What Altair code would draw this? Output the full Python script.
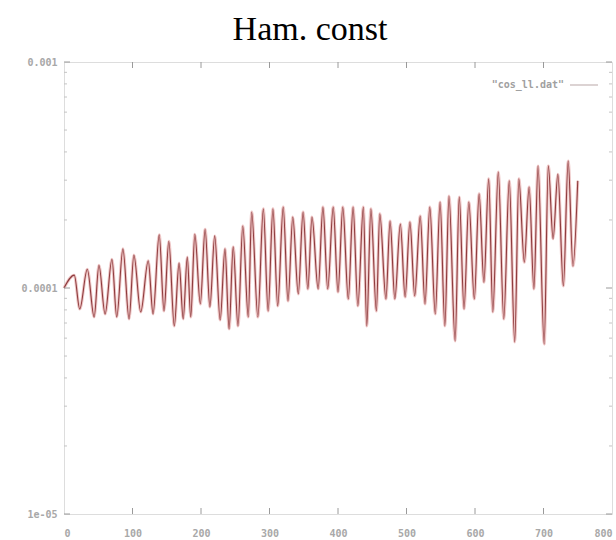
import altair as alt
import pandas as pd

# ---- data ----
steps = [0, 15, 23, 34, 44, 51, 60, 70, 77, 86, 95, 102, 112, 123, 130, 139, 146, 153, 161, 168,
         174, 180, 185, 191, 199, 206, 213, 220, 228, 235, 241, 247, 254, 261, 269, 274, 283, 291,
         298, 305, 312, 320, 327, 334, 342, 349, 356, 362, 371, 378, 385, 393, 400, 407, 415, 422,
         429, 437, 442, 448, 456, 461, 470, 476, 483, 491, 498, 505, 512, 520, 527, 534, 542, 549,
         556, 562, 571, 577, 584, 591, 599, 606, 613, 620, 626, 634, 642, 650, 658, 664, 672, 679,
         686, 692, 701, 707, 714, 721, 729, 736, 743, 750]
ham = [1.00e-4, 1.14e-4, 0.807e-4, 1.21e-4, 0.744e-4, 1.26e-4, 0.767e-4, 1.34e-4, 0.744e-4, 1.49e-4,
       0.729e-4, 1.40e-4, 0.783e-4, 1.32e-4, 0.767e-4, 1.72e-4, 0.791e-4, 1.61e-4, 0.679e-4, 1.29e-4,
       0.729e-4, 1.37e-4, 0.744e-4, 1.73e-4, 0.850e-4, 1.82e-4, 0.824e-4, 1.70e-4, 0.722e-4, 1.49e-4,
       0.659e-4, 1.52e-4, 0.679e-4, 1.88e-4, 0.744e-4, 2.17e-4, 0.744e-4, 2.24e-4, 0.791e-4, 2.24e-4,
       0.833e-4, 2.28e-4, 0.876e-4, 2.06e-4, 0.941e-4, 2.17e-4, 0.990e-4, 2.06e-4, 0.990e-4, 2.28e-4,
       0.990e-4, 2.28e-4, 0.960e-4, 2.28e-4, 0.894e-4, 2.28e-4, 0.833e-4, 2.28e-4, 0.679e-4, 2.24e-4,
       0.791e-4, 2.13e-4, 0.894e-4, 1.98e-4, 0.894e-4, 1.92e-4, 0.912e-4, 1.96e-4, 0.922e-4, 2.08e-4,
       0.850e-4, 2.28e-4, 0.767e-4, 2.40e-4, 0.679e-4, 2.55e-4, 0.583e-4, 2.53e-4, 0.807e-4, 2.40e-4,
       0.894e-4, 2.61e-4, 1.06e-4, 3.04e-4, 0.783e-4, 3.26e-4, 0.729e-4, 2.98e-4, 0.577e-4, 3.04e-4,
       1.30e-4, 2.80e-4, 0.99e-4, 3.47e-4, 0.565e-4, 3.47e-4, 1.65e-4, 3.19e-4, 1.02e-4, 3.65e-4,
       1.25e-4, 2.98e-4]

x_ticks = [0, 100, 200, 300, 400, 500, 600, 700, 800]
x_inner_ticks = [100, 200, 300, 400, 500, 600, 700]
y_major = [1e-5, 1e-4, 1e-3]
y_minor = [2e-5, 3e-5, 4e-5, 5e-5, 6e-5, 7e-5, 8e-5, 9e-5,
           2e-4, 3e-4, 4e-4, 5e-4, 6e-4, 7e-4, 8e-4, 9e-4]
legend_label = ['"cos_ll.dat"']

df = pd.DataFrame({"step": steps, "ham": ham})
W, H = 548, 452

xs = alt.Scale(domain=[0, 800], nice=False, zero=False)
ys = alt.Scale(type="log", domain=[1e-5, 1e-3], nice=False)

label_font = "DejaVu Sans Mono"
label_color = "#a8a8a8"

base = alt.Chart(df)

halo = base.mark_line(color="#eab8b8", strokeWidth=3, opacity=0.8, interpolate="monotone").encode(
    x=alt.X("step:Q", scale=xs,
            axis=alt.Axis(values=x_ticks, title=None, grid=False, ticks=False, domain=False,
                          labelFont=label_font, labelFontSize=10, labelFontWeight="bold",
                          labelColor=label_color, labelPadding=14, labelFlush=True, format="d")),
    y=alt.Y("ham:Q", scale=ys,
            axis=alt.Axis(values=y_major, title=None, grid=False, ticks=False, domain=False,
                          labelFont=label_font, labelFontSize=10, labelFontWeight="bold",
                          labelColor=label_color, labelPadding=7,
                          labelExpr="datum.value == 1e-5 ? '1e-05' : (datum.value == 1e-4 ? '0.0001' : '0.001')")),
)
line = base.mark_line(color="#8e3c3e", strokeWidth=1.1, interpolate="monotone").encode(
    x=alt.X("step:Q", scale=xs), y=alt.Y("ham:Q", scale=ys)
)

tick_color = "#9a9a9a"
xt = pd.DataFrame({"t": x_inner_ticks})
xtick_bot = alt.Chart(xt).mark_rule(color=tick_color, strokeWidth=1).encode(
    x=alt.X("t:Q", scale=xs), y=alt.value(H), y2=alt.value(H - 6))
xtick_top = alt.Chart(xt).mark_rule(color=tick_color, strokeWidth=1).encode(
    x=alt.X("t:Q", scale=xs), y=alt.value(0), y2=alt.value(6))

ym = pd.DataFrame({"v": y_major})
yn = pd.DataFrame({"v": y_minor})
ytick_l = alt.Chart(ym).mark_rule(color=tick_color).encode(
    y=alt.Y("v:Q", scale=ys), x=alt.value(0), x2=alt.value(6))
ytick_r = alt.Chart(ym).mark_rule(color=tick_color).encode(
    y=alt.Y("v:Q", scale=ys), x=alt.value(W - 6), x2=alt.value(W))
yminor_l = alt.Chart(yn).mark_rule(color="#c4c4c4").encode(
    y=alt.Y("v:Q", scale=ys), x=alt.value(0), x2=alt.value(3))
yminor_r = alt.Chart(yn).mark_rule(color="#c4c4c4").encode(
    y=alt.Y("v:Q", scale=ys), x=alt.value(W - 3), x2=alt.value(W))

leg_df = pd.DataFrame({"lab": legend_label})
leg_text = alt.Chart(leg_df).mark_text(font=label_font, fontSize=10, fontWeight="bold",
                                       color="#a0a0a0", align="right", baseline="middle").encode(
    text="lab:N", x=alt.value(500), y=alt.value(23))
leg_line = alt.Chart(leg_df).mark_rule(color="#d0c4c4", strokeWidth=1.5).encode(
    x=alt.value(506), x2=alt.value(534), y=alt.value(23))

chart = alt.layer(
    halo, line, xtick_bot, xtick_top, ytick_l, ytick_r, yminor_l, yminor_r, leg_text, leg_line
).properties(
    width=W, height=H,
    title=alt.TitleParams("Ham. const", font="Liberation Serif", fontSize=34, fontWeight="normal",
                          color="#000000", anchor="middle", dx=-28, offset=10),
    autosize=alt.AutoSizeParams(type="none"),
    padding={"left": 64, "top": 62, "right": 4, "bottom": 26},
).configure_view(
    stroke="#808080", strokeWidth=1.6
).configure(background="white")

chart.save("out.html", embed_options={"renderer": "svg", "actions": False})
